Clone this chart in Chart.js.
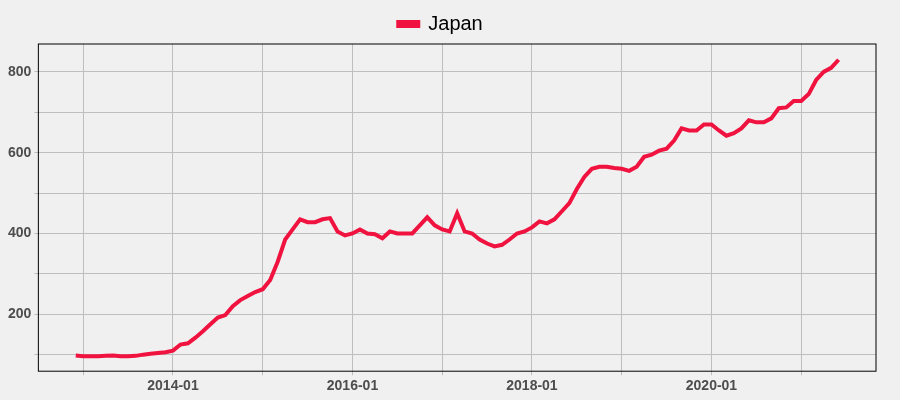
<!DOCTYPE html>
<html><head><meta charset="utf-8">
<script src="https://cdn.jsdelivr.net/npm/chart.js@4"></script>
<style>html,body{margin:0;background:#f0f0f0;}#w{width:900px;height:400px;}</style>
</head><body><div id="w"><canvas id="c"></canvas></div>
<script>
const startYear = 2012, startMonth = 12;
const japan = [
 98,96,96,96,97,98,96,96,97,100,102,104,106,
 110,125,128,142,158,175,192,198,220,235,245,255,
 262,285,330,385,410,435,428,428,435,438,405,395,
 400,410,400,398,388,405,400,400,400,420,440,420,
 410,405,450,405,400,385,375,368,372,385,400,405,
 415,430,425,435,455,475,510,540,560,565,565,562,
 560,555,565,590,595,605,610,630,660,655,655,670,
 670,655,642,648,660,680,675,675,685,710,712,728,
 728,745,780,800,810,830
];
const tickLabels = ['2014-01','2016-01','2018-01','2020-01'];
// x = months since 2014-01
const offset = (startYear - 2014) * 12 + (startMonth - 1);
const pts = japan.map((v, i) => ({x: i + offset, y: v}));
const border = {id:'b', afterDraw(c){const a=c.chartArea,g=c.ctx;g.save();g.strokeStyle='#000';g.lineWidth=1;g.strokeRect(a.left,a.top,a.width,a.height);g.restore();}};
new Chart(document.getElementById('c'), {
 type:'line',
 data:{datasets:[{label:'Japan',data:pts,borderColor:'#f0123f',backgroundColor:'#f0123f',borderWidth:4,pointRadius:0,tension:0}]},
 options:{responsive:true,maintainAspectRatio:false,animation:false,
  layout:{padding:{left:5,right:24,bottom:2}},
  plugins:{legend:{position:'top',labels:{font:{size:20,family:'Liberation Sans'},color:'#000',boxWidth:20,boxHeight:4,padding:14}},tooltip:{enabled:false}},
  scales:{
   x:{type:'linear',min:-18,max:94,
    afterBuildTicks(s){s.ticks=[-12,0,12,24,36,48,60,72,84].map(v=>({value:v}));},
    grid:{color:'#bebebe',drawTicks:true,tickLength:4},border:{display:false},
    ticks:{autoSkip:false,maxRotation:0,color:'#4d4d4d',font:{size:14,weight:'bold',family:'Liberation Sans'},
     callback:(v)=> (v>=0 && v%24===0) ? tickLabels[v/24] : ''}},
   y:{min:59,max:869,
    afterBuildTicks(s){s.ticks=[100,200,300,400,500,600,700,800].map(v=>({value:v}));},
    grid:{color:'#bebebe',tickLength:4},border:{display:false},
    ticks:{autoSkip:false,color:'#4d4d4d',font:{size:14,weight:'bold',family:'Liberation Sans'},
     callback:(v)=> v%200===0 ? String(v) : ''}}
  }},
 plugins:[border]
});
</script></body></html>
